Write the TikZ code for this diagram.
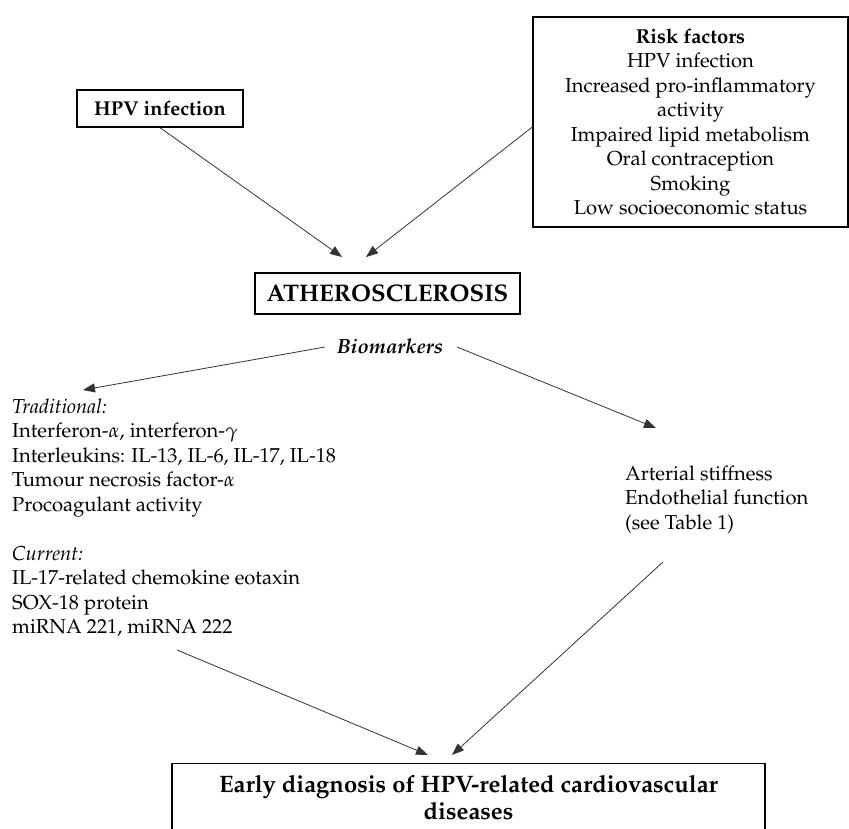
\documentclass[tikz,border=0pt]{standalone}
\usepackage[T1]{fontenc}
\usepackage{mathpazo}
\usetikzlibrary{arrows.meta,calc}
\begin{document}
\begin{tikzpicture}[x=1pt,y=-1pt,
  box/.style={draw=black, line width=1.3pt, inner sep=0pt},
  arr/.style={draw=black!80, line width=0.8pt, -{Triangle[length=12pt,width=9pt]}},
  txt/.style={font=\fontsize{20.2}{24.5}\selectfont, inner sep=0pt}]
\useasboundingbox (0,0) rectangle (849,829);
\fill[white] (0,0) rectangle (849,829);
% boxes
\node[box, minimum width=166, minimum height=37,
      font=\bfseries\fontsize{20}{24}\selectfont] (hpv) at (160,108.5) {HPV infection};
\node[box, txt, minimum width=315, minimum height=210, align=center] (risk) at (690.5,122)
  {\textbf{Risk factors}\\HPV infection\\Increased pro-inflammatory\\activity\\Impaired lipid metabolism\\Oral contraception\\Smoking\\Low socioeconomic status};
\node[box, minimum width=265, minimum height=41,
      font=\bfseries\fontsize{24}{28}\selectfont] (ath) at (387.5,293.5) {ATHEROSCLEROSIS};
\node[txt, font=\bfseries\itshape\fontsize{20.5}{24.5}\selectfont, anchor=base] (bio) at (390,353) {Biomarkers};
\node[txt, align=left, anchor=north west] (trad) at (12,398.4)
  {\textit{Traditional:}\\Interferon-$\alpha$, interferon-$\gamma$\\Interleukins: IL-13, IL-6, IL-17, IL-18\\Tumour necrosis factor-$\alpha$\\Procoagulant activity};
\node[txt, align=left, anchor=north west] (cur) at (12,546.2)
  {\textit{Current:}\\IL-17-related chemokine eotaxin\\SOX-18 protein\\miRNA 221, miRNA 222};
\node[txt, align=left, anchor=north west] (art) at (625,465.4)
  {Arterial stiffness\\Endothelial function\\(see Table 1)};
\node[box, anchor=north, minimum width=593, inner xsep=0pt, inner ysep=12pt, align=center,
      font=\bfseries\fontsize{23.8}{27}\selectfont] (diag) at (468.5,763)
  {Early diagnosis of HPV-related cardiovascular\\diseases};
% arrow ends
\coordinate (t1) at (342,257);
\coordinate (t2) at (366,257);
\coordinate (t3) at (83,390);
\coordinate (t4) at (656,428);
\coordinate (s5) at (177,650);
\coordinate (t5) at (428,755);
\coordinate (s6) at (663,562);
\coordinate (t6) at (452,755);
% connectors
\draw[arr] (hpv.south) -- (t1);
\draw[arr] ($(risk.west)+(0,5)$) -- (t2);
\draw[arr] (325,347) -- (t3);
\draw[arr] (457,347) -- (t4);
\draw[arr] (s5) -- (t5);
\draw[arr] (s6) -- (t6);
\end{tikzpicture}
\end{document}
